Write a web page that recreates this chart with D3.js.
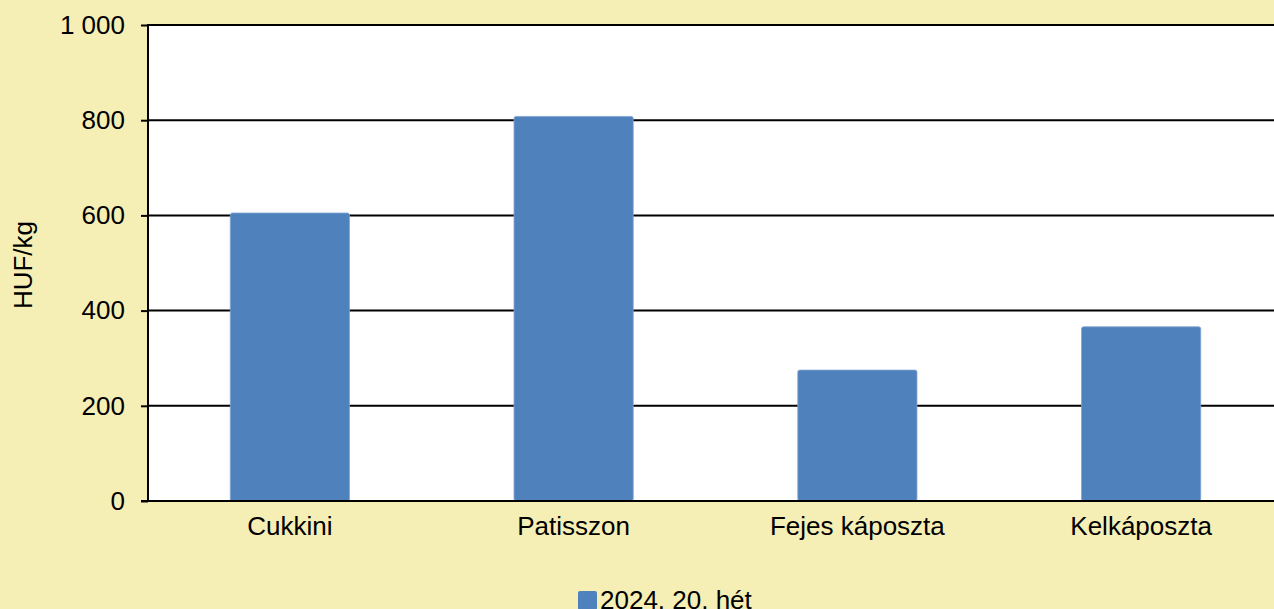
<!DOCTYPE html>
<html>
<head>
<meta charset="utf-8">
<script src="https://cdn.jsdelivr.net/npm/d3@7"></script>
<style>
  html, body { margin: 0; padding: 0; background: #F5EEB5; overflow: hidden; }
  svg { display: block; }
</style>
</head>
<body>
<svg id="chart"></svg>
<script>
const categories = ["Cukkini", "Patisszon", "Fejes káposzta", "Kelkáposzta"];
const values = [605, 808, 275, 366];
const yTicks = [0, 200, 400, 600, 800, 1000];
const seriesName = "2024. 20. hét";
const yLabel = "HUF/kg";

const width = 1274, height = 609;
const margin = { top: 25, bottom: 108, left: 148 };
const plotRight = 1283; // plot area runs past the right edge of the picture
const font = "Arial, 'Liberation Sans', sans-serif";
const fontSize = 26;

const svg = d3.select("#chart")
    .attr("width", width)
    .attr("height", height)
    .attr("font-family", font);

svg.append("rect")
    .attr("width", width)
    .attr("height", height)
    .attr("fill", "#F5EEB5");

const x = d3.scaleBand()
    .domain(categories)
    .range([margin.left, plotRight])
    .paddingInner(0.58)
    .paddingOuter(0.29);

const y = d3.scaleLinear()
    .domain([0, 1000])
    .range([height - margin.bottom, margin.top]);

// plot area
svg.append("rect")
    .attr("x", margin.left)
    .attr("y", margin.top)
    .attr("width", width - margin.left)
    .attr("height", y(0) - margin.top)
    .attr("fill", "#fff");

// ticks + labels
const fmt = v => d3.format(",")(v).replace(/,/g, " ");
const yAxis = svg.append("g")
    .attr("transform", `translate(${margin.left},0)`)
    .call(d3.axisLeft(y).tickValues(yTicks).tickSize(7).tickPadding(16).tickFormat(fmt));
yAxis.select(".domain").remove();
yAxis.selectAll(".tick line").attr("stroke", "#000").attr("stroke-width", 2);
yAxis.selectAll(".tick text")
    .attr("font-size", fontSize)
    .attr("font-family", font)
    .attr("fill", "#000");

// gridlines
svg.append("g")
  .selectAll("line")
  .data(yTicks)
  .join("line")
    .attr("x1", margin.left)
    .attr("x2", width)
    .attr("y1", d => y(d))
    .attr("y2", d => y(d))
    .attr("stroke", "#000")
    .attr("stroke-width", 2);

// bars
svg.append("g")
  .selectAll("rect")
  .data(values)
  .join("rect")
    .attr("x", (d, i) => x(categories[i]))
    .attr("y", d => y(d))
    .attr("width", x.bandwidth())
    .attr("height", d => y(0) - y(d))
    .attr("rx", 2)
    .attr("fill", "#4F81BD")
    .attr("stroke", "#7FA3D0")
    .attr("stroke-width", 0.8);

// baseline over the bars
svg.append("line")
    .attr("x1", margin.left - 7)
    .attr("x2", width)
    .attr("y1", y(0))
    .attr("y2", y(0))
    .attr("stroke", "#000")
    .attr("stroke-width", 2);

// y axis line
svg.append("line")
    .attr("x1", margin.left)
    .attr("x2", margin.left)
    .attr("y1", margin.top - 1)
    .attr("y2", y(0) + 1)
    .attr("stroke", "#000")
    .attr("stroke-width", 2);

// x labels
svg.append("g")
  .selectAll("text")
  .data(categories)
  .join("text")
    .attr("x", d => x(d) + x.bandwidth() / 2)
    .attr("y", y(0) + 34)
    .attr("text-anchor", "middle")
    .attr("font-size", fontSize)
    .attr("fill", "#000")
    .text(d => d);

// y label
svg.append("text")
    .attr("transform", `translate(32,${(margin.top + y(0)) / 2 + 2}) rotate(-90)`)
    .attr("text-anchor", "middle")
    .attr("font-size", fontSize)
    .attr("fill", "#000")
    .text(yLabel);

// legend
const legend = svg.append("g").attr("transform", "translate(578,591)");
legend.append("rect")
    .attr("width", 19)
    .attr("height", 19)
    .attr("rx", 2)
    .attr("fill", "#4F81BD");
legend.append("text")
    .attr("x", 22)
    .attr("y", 18)
    .attr("font-size", fontSize)
    .attr("fill", "#000")
    .text(seriesName);
</script>
</body>
</html>
